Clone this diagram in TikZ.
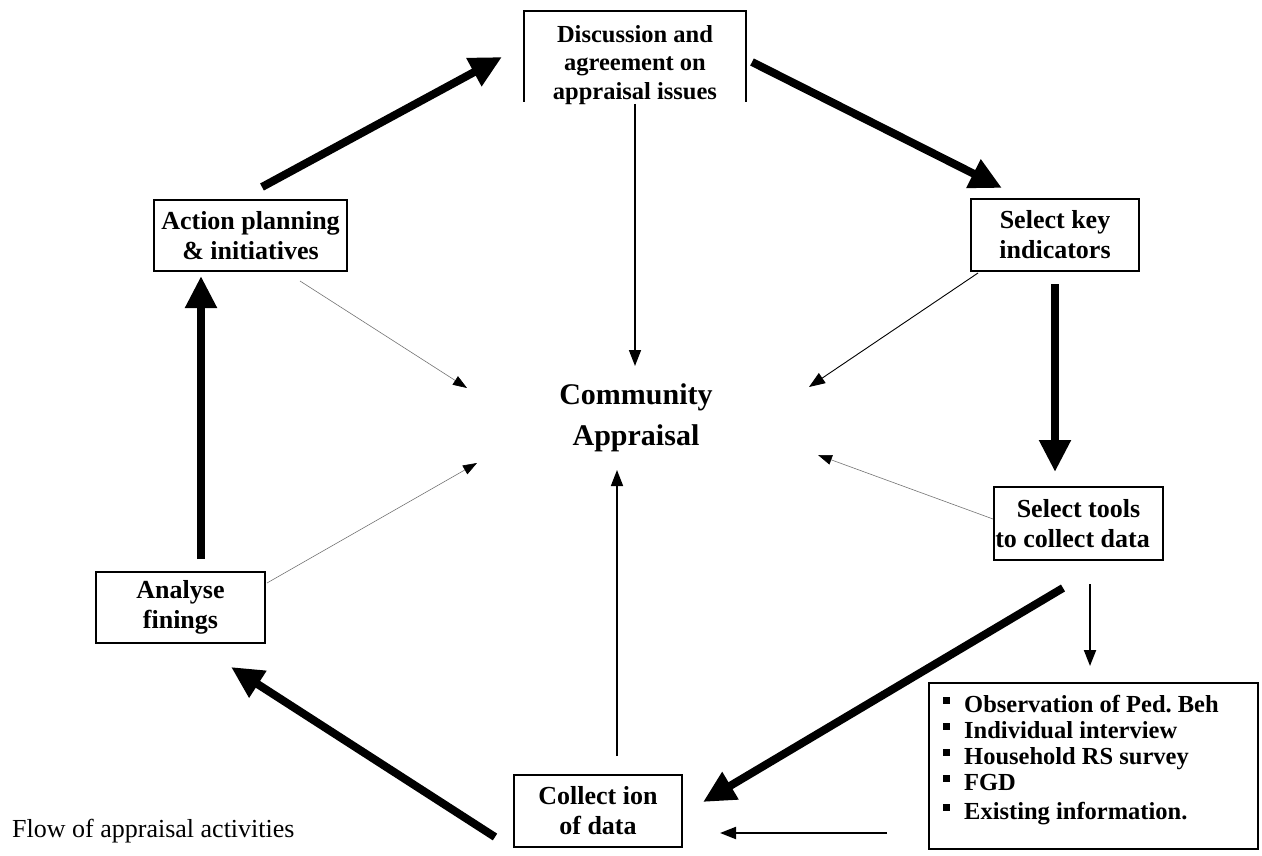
\documentclass[tikz,border=0pt]{standalone}
\usepackage{fontspec}
\setmainfont{Liberation Serif}
\usetikzlibrary{arrows.meta}
\frenchspacing
\newcommand{\sqbul}{\rule[8pt]{7pt}{7pt}\hspace{14pt}}
\begin{document}
\begin{tikzpicture}[x=1pt,y=-1pt,
  boxtext/.style={font=\fontsize{26}{30}\selectfont\bfseries, align=center, inner sep=0pt},
  framebox/.style={boxtext, draw, line width=2.4pt},
  bigarrow/.style={line width=8pt, -{Triangle[length=32pt,width=30pt]}},
  smallarrow/.style={line width=1.6pt, -{Triangle[length=16pt,width=12pt]}},
  hairarrow/.style={line width=0.6pt, draw=black!55, -{Triangle[length=14pt,width=10pt,color=black]}},
]
\useasboundingbox (0,0) rectangle (1262,856);
% boxes
\node[boxtext, font=\fontsize{24.5}{28.5}\selectfont\bfseries] (disc) at (635,64.7) {Discussion and\\agreement on\\appraisal issues};
\draw[line width=2.4pt] (524,102) -- (524,11) -- (746,11) -- (746,102);
\node[framebox, minimum width=193pt, minimum height=71pt] (act) at (250.5,235.5) {Action planning\\\& initiatives};
\node[framebox, minimum width=168pt, minimum height=72pt] (key) at (1055,235) {Select key\\indicators};
\node[framebox, minimum width=169pt, minimum height=73pt] (tools) at (1078.5,523.5) {Select tools\\to collect data\hspace*{12pt}};
\node[framebox, minimum width=169pt, minimum height=71pt] (ana) at (180.5,607.5) {Analyse\\finings};
\node[framebox, minimum width=168pt, minimum height=72pt] (col) at (598,811) {Collect ion\\of data};
\node[font=\fontsize{30}{41}\selectfont\bfseries, align=center, inner sep=0pt] (cen) at (636,418) {Community\\Appraisal};
\node[draw, line width=2.4pt, minimum width=329pt, minimum height=166pt, inner sep=0pt] (lst) at (1093.5,766) {};
\node[anchor=north west, inner sep=0pt, align=left, font=\fontsize{24.5}{26}\selectfont\bfseries] (lsttxt) at (943,695) {\sqbul Observation of Ped.\ Beh\\ \sqbul Individual interview\\ \sqbul Household RS survey\\ \sqbul FGD\\[3pt] \sqbul Existing information.};
\node[anchor=base west, inner sep=0pt, font=\fontsize{26}{30}\selectfont] (cap) at (12,837) {Flow of appraisal activities};
% connector ends
\coordinate (a1s) at (262,187); \coordinate (a1e) at (502,57);
\coordinate (a2s) at (752,62);  \coordinate (a2e) at (1002,188);
\coordinate (a3s) at (1055,284); \coordinate (a3e) at (1055,472);
\coordinate (a4s) at (1063,588); \coordinate (a4e) at (703,802);
\coordinate (a5s) at (495,837); \coordinate (a5e) at (231,667);
\coordinate (a6s) at (201,559); \coordinate (a6e) at (201,276);
\coordinate (t1s) at (635,104); \coordinate (t1e) at (635,366);
\coordinate (t2s) at (300,281); \coordinate (t2e) at (467,388);
\coordinate (t3s) at (978,273); \coordinate (t3e) at (809,387);
\coordinate (t4s) at (993,519); \coordinate (t4e) at (818,455);
\coordinate (t5s) at (267,583); \coordinate (t5e) at (477,463);
\coordinate (t6s) at (617,756); \coordinate (t6e) at (617,470);
\coordinate (t7s) at (1090,584); \coordinate (t7e) at (1090,666);
\coordinate (t8s) at (887,833); \coordinate (t8e) at (720,833);
% thick cycle
\draw[bigarrow] (a1s) -- (a1e);
\draw[bigarrow] (a2s) -- (a2e);
\draw[bigarrow] (a3s) -- (a3e);
\draw[bigarrow] (a4s) -- (a4e);
\draw[bigarrow] (a5s) -- (a5e);
\draw[bigarrow] (a6s) -- (a6e);
% thin arrows
\draw[smallarrow] (t1s) -- (t1e);
\draw[hairarrow] (t2s) -- (t2e);
\draw[smallarrow, line width=0.9pt] (t3s) -- (t3e);
\draw[hairarrow] (t4s) -- (t4e);
\draw[hairarrow] (t5s) -- (t5e);
\draw[smallarrow] (t6s) -- (t6e);
\draw[smallarrow, line width=2pt] (t7s) -- (t7e);
\draw[smallarrow, line width=2pt] (t8s) -- (t8e);
\end{tikzpicture}
\end{document}
